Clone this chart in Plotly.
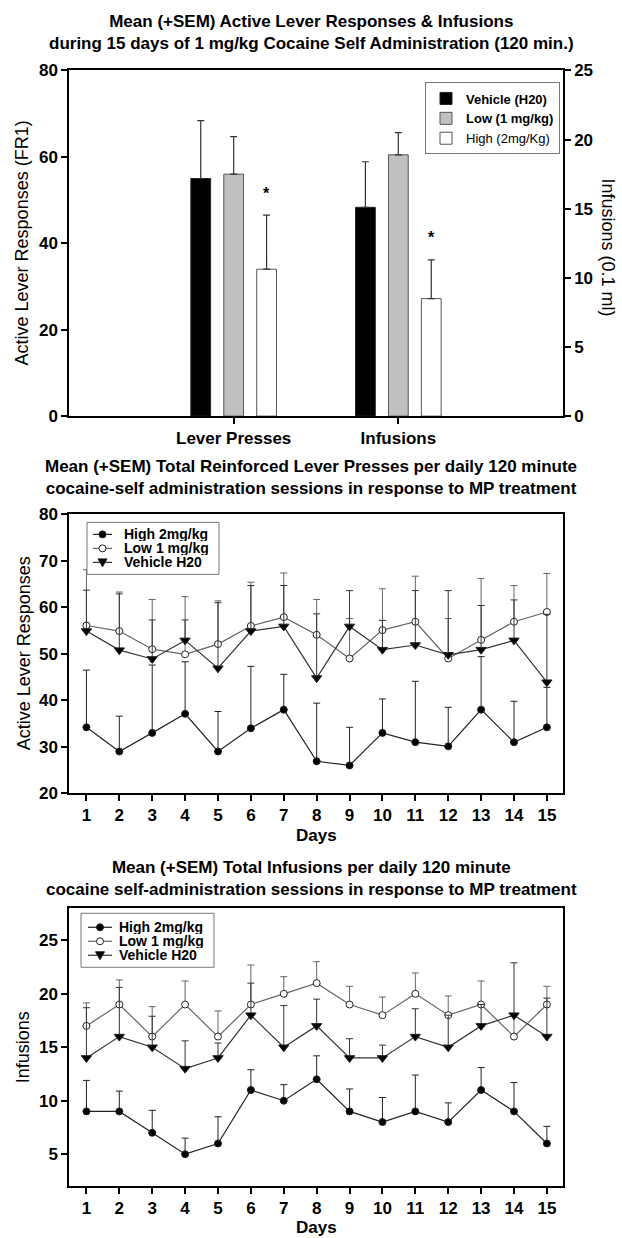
import plotly.graph_objects as go

# ---------------- data ----------------
groups = ["Vehicle (H20)", "Low (1 mg/kg)", "High (2mg/Kg)"]
categories = ["Lever Presses", "Infusions"]
lever_mean = [55.0, 56.0, 34.0]
lever_sem = [13.4, 8.7, 12.5]
infusion_mean = [15.1, 18.9, 8.5]
infusion_sem = [3.3, 1.6, 2.8]

days = list(range(1, 16))
line_groups = ["High 2mg/kg", "Low 1 mg/kg", "Vehicle H20"]

high_lp = [34.2, 29.0, 33.0, 37.1, 29.0, 34.0, 38.0, 26.9, 26.0, 33.0, 31.0, 30.1, 38.0, 31.0, 34.2]
high_lp_sem = [12.3, 7.6, 14.6, 11.2, 8.6, 13.3, 7.6, 12.5, 8.2, 7.3, 13.1, 8.4, 11.4, 8.8, 8.6]
low_lp = [56.1, 54.9, 51.0, 49.9, 52.1, 56.0, 57.9, 54.1, 49.0, 55.1, 56.9, 49.0, 53.0, 56.9, 59.0]
low_lp_sem = [12.0, 8.4, 10.7, 12.4, 9.3, 9.4, 9.5, 7.6, 8.6, 8.9, 9.8, 8.6, 13.2, 7.8, 8.3]
veh_lp = [54.9, 50.8, 48.9, 52.9, 46.9, 54.9, 55.9, 44.8, 55.9, 50.9, 51.9, 49.8, 50.9, 52.9, 43.9]
veh_lp_sem = [8.8, 12.1, 8.4, 4.4, 14.1, 9.8, 8.8, 13.8, 7.7, 6.3, 11.7, 13.8, 9.5, 8.7, 14.6]

high_inf = [9.0, 9.0, 7.0, 5.0, 6.0, 11.0, 10.0, 12.0, 9.0, 8.0, 9.0, 8.0, 11.0, 9.0, 6.0]
high_inf_sem = [2.9, 1.9, 2.1, 1.5, 2.5, 1.9, 1.5, 2.2, 2.1, 2.3, 3.4, 1.8, 2.1, 2.7, 1.6]
low_inf = [17.0, 19.0, 16.0, 19.0, 16.0, 19.0, 20.0, 21.0, 19.0, 18.0, 20.0, 18.0, 19.0, 16.0, 19.0]
low_inf_sem = [2.15, 2.3, 2.8, 2.2, 2.4, 3.7, 1.6, 2.0, 1.7, 1.7, 1.95, 1.8, 2.2, 1.9, 1.7]
veh_inf = [14.0, 16.0, 15.0, 13.0, 14.0, 18.0, 15.0, 17.0, 14.0, 14.0, 16.0, 15.0, 17.0, 18.0, 16.0]
veh_inf_sem = [4.7, 4.6, 2.9, 2.6, 1.4, 3.0, 3.9, 2.5, 1.8, 1.2, 2.6, 3.0, 2.0, 4.9, 3.6]

# ---------------- style ----------------
FONT = "Liberation Sans"
W, H = 622, 1248
bar_fill = ["#000000", "#c0c0c0", "#ffffff"]
bar_line = ["#222222", "#555555", "#555555"]
bar_offsets = [-0.26, -0.06, 0.14]
bar_width = 0.12
line_colors = ["#222222", "#666666", "#333333"]
marker_sym = ["circle", "circle", "triangle-down"]
marker_fill = ["#000000", "#ffffff", "#000000"]
marker_size = [7, 7, 9]

# vertical calibration of the photographed page (measured): shown_y = 8.5 + 0.985 * page_y
Y_OFF, Y_SCALE = 8.5, 0.985

def fx(px):
    return px / W

def page_y(ref_y):
    return (ref_y - Y_OFF) / Y_SCALE

def fy(ref_y):
    return 1 - page_y(ref_y) / H

XDOM = [fx(69), fx(563)]
TOP_DOM = [fy(415.7), fy(70)]
MID_DOM = [fy(793), fy(514)]
BOT_DOM = [fy(1186), fy(908)]

fig = go.Figure()

# ---------- top bar chart ----------
for i, g in enumerate(groups):
    name = g if i == 2 else "<b>" + g + "</b>"
    fig.add_trace(go.Bar(
        x=[categories[0]], y=[lever_mean[i]], xaxis="x", yaxis="y",
        offset=bar_offsets[i], width=bar_width, name=name, legend="legend",
        legendgroup=g, marker=dict(color=bar_fill[i], line=dict(color=bar_line[i], width=1)),
        error_y=dict(type="data", array=[lever_sem[i]], arrayminus=[0], symmetric=False,
                     color="#333333", thickness=1.2, width=3.5),
    ))
for i, g in enumerate(groups):
    fig.add_trace(go.Bar(
        x=[categories[1]], y=[infusion_mean[i]], xaxis="x", yaxis="y2",
        offset=bar_offsets[i], width=bar_width, name=g, legend="legend",
        legendgroup=g, showlegend=False,
        marker=dict(color=bar_fill[i], line=dict(color=bar_line[i], width=1)),
        error_y=dict(type="data", array=[infusion_sem[i]], arrayminus=[0], symmetric=False,
                     color="#333333", thickness=1.2, width=3.5),
    ))

# ---------- line charts ----------
def add_lines(series, sems, xa, ya):
    for i, g in enumerate(line_groups):
        fig.add_trace(go.Scatter(
            x=days, y=series[i], xaxis=xa, yaxis=ya, mode="lines+markers",
            name=g, showlegend=False,
            line=dict(color=line_colors[i], width=1.2),
            marker=dict(symbol=marker_sym[i], size=marker_size[i], color=marker_fill[i],
                        line=dict(color="#222222", width=1)),
            error_y=dict(type="data", array=sems[i], arrayminus=[0] * len(days), symmetric=False,
                         color=line_colors[i], thickness=1, width=3.5),
        ))

add_lines([high_lp, low_lp, veh_lp], [high_lp_sem, low_lp_sem, veh_lp_sem], "x2", "y3")
add_lines([high_inf, low_inf, veh_inf], [high_inf_sem, low_inf_sem, veh_inf_sem], "x3", "y4")

axis_common = dict(showline=True, linecolor="black", linewidth=1.5, ticks="outside",
                   ticklen=6, tickwidth=1.5, tickcolor="black", showgrid=False, zeroline=False,
                   tickfont=dict(family=FONT, size=17, color="black", weight="bold"))

fig.update_layout(
    width=W, height=H, margin=dict(l=0, r=0, t=0, b=0),
    paper_bgcolor="white", plot_bgcolor="white", barmode="overlay",
    font=dict(family=FONT, color="black"),
    xaxis=dict(domain=XDOM, anchor="y", type="category", range=[-1, 2], mirror=True, **axis_common),
    yaxis=dict(domain=TOP_DOM, anchor="x", range=[0, 80], dtick=20, mirror=True, **axis_common),
    yaxis2=dict(overlaying="y", side="right", anchor="x", range=[0, 25], dtick=5, **axis_common),
    xaxis2=dict(domain=XDOM, anchor="y3", range=[0.47, 15.49], dtick=1, mirror=True, **axis_common),
    yaxis3=dict(domain=MID_DOM, anchor="x2", range=[20, 80], dtick=10, mirror=True, **axis_common),
    xaxis3=dict(domain=XDOM, anchor="y4", range=[0.47, 15.49], dtick=1, mirror=True, **axis_common),
    yaxis4=dict(domain=BOT_DOM, anchor="x3", range=[2, 28], tickvals=[5, 10, 15, 20, 25], mirror=True, **axis_common),
    legend=dict(x=fx(425), y=fy(82), xanchor="left", yanchor="top", bgcolor="white",
                bordercolor="#777777", borderwidth=1, traceorder="normal",
                font=dict(family=FONT, size=13)),
)

# ---------- text annotations ----------
ann = []
shapes = []

def title(text, ycenter):
    ann.append(dict(text="<b>" + text + "</b>", x=0.5, y=fy(ycenter), xref="paper", yref="paper",
                    showarrow=False, xanchor="center", yanchor="middle",
                    font=dict(family=FONT, size=17, color="black")))

title("Mean (+SEM) Active Lever Responses &amp; Infusions<br>during 15 days of 1 mg/kg Cocaine Self Administration (120 min.)", 32)
title("Mean (+SEM) Total Reinforced Lever Presses per daily 120 minute<br>cocaine-self administration sessions in response to MP treatment", 477)
title("Mean (+SEM) Total Infusions per daily 120 minute<br>cocaine self-administration sessions in response to MP treatment", 878)

def vtitle(text, xpx, ycenter, angle):
    ann.append(dict(text=text, x=fx(xpx), y=fy(ycenter), xref="paper", yref="paper",
                    showarrow=False, xanchor="center", yanchor="middle", textangle=angle,
                    font=dict(family=FONT, size=18, color="black")))

vtitle("Active Lever Responses (FR1)", 22, 243, -90)
vtitle("Infusions (0.1 ml)", 608, 247, 90)
vtitle("Active Lever Responses", 24, 653, -90)
vtitle("Infusions", 23, 1047, -90)

for ycen in (835, 1227):
    ann.append(dict(text="<b>Days</b>", x=(XDOM[0] + XDOM[1]) / 2, y=fy(ycen), xref="paper", yref="paper",
                    showarrow=False, xanchor="center", yanchor="middle",
                    font=dict(family=FONT, size=17, color="black")))

# significance stars above the High bars
star_x_lp = 0 + bar_offsets[2] + bar_width / 2
star_x_inf = 1 + bar_offsets[2] + bar_width / 2
ann.append(dict(text="<b>*</b>", x=star_x_lp, y=lever_mean[2] + lever_sem[2], xref="x", yref="y",
                showarrow=False, yshift=22, font=dict(family=FONT, size=16, color="black")))
ann.append(dict(text="<b>*</b>", x=star_x_inf, y=infusion_mean[2] + infusion_sem[2], xref="x", yref="y2",
                showarrow=False, yshift=22, font=dict(family=FONT, size=16, color="black")))

# ---------- compact legends for the line charts ----------
def line_legend(box, rows, line_x, text_x):
    x0, y0, x1, y1 = box
    shapes.append(dict(type="rect", xref="paper", yref="paper", x0=fx(x0), x1=fx(x1),
                       y0=fy(y1), y1=fy(y0), line=dict(color="#777777", width=1),
                       fillcolor="white", layer="above"))
    lx0, lx1 = line_x
    xc = (lx0 + lx1) / 2
    for i, g in enumerate(line_groups):
        yr = rows[i]
        shapes.append(dict(type="line", xref="paper", yref="paper", x0=fx(lx0), x1=fx(lx1),
                           y0=fy(yr), y1=fy(yr), line=dict(color=line_colors[i], width=1.2),
                           layer="above"))
        if marker_sym[i] == "circle":
            r = 3.5
            shapes.append(dict(type="circle", xref="paper", yref="paper",
                               x0=fx(xc - r), x1=fx(xc + r), y0=fy(yr + r), y1=fy(yr - r),
                               fillcolor=marker_fill[i], line=dict(color="#222222", width=1),
                               layer="above"))
        else:
            path = "M {:.5f},{:.5f} L {:.5f},{:.5f} L {:.5f},{:.5f} Z".format(
                fx(xc - 4.5), fy(yr - 3.5), fx(xc + 4.5), fy(yr - 3.5), fx(xc), fy(yr + 4.5))
            shapes.append(dict(type="path", xref="paper", yref="paper", path=path,
                               fillcolor=marker_fill[i], line=dict(color="#222222", width=1),
                               layer="above"))
        ann.append(dict(text="<b>" + g + "</b>", x=fx(text_x), y=fy(yr), xref="paper", yref="paper",
                        showarrow=False, xanchor="left", yanchor="middle", height=14,
                        font=dict(family=FONT, size=14, color="black")))

line_legend((87, 522, 219, 574), [534, 548, 562], (93, 112), 122)
line_legend((81, 913, 214, 967), [927, 941, 955], (88, 112), 117)

fig.update_layout(annotations=ann, shapes=shapes)
fig.write_html("out.html", config={"displayModeBar": False},
               post_script="document.body.style.margin='0px';")
